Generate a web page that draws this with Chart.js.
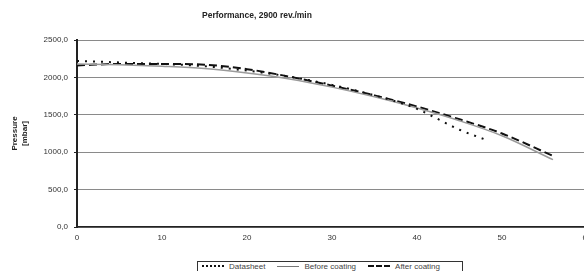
<!DOCTYPE html>
<html lang="en">
<head>
  <meta charset="UTF-8" />
  <title>Performance, 2900 rev./min</title>
  <style>
    body {
      margin: 0;
      background: #fff;
      font-family: 'Liberation Sans', Arial, sans-serif;
    }

    .wrap {
      position: relative;
      width: 584px;
      height: 271px;
      overflow: hidden;
    }

    .wrap canvas {
      position: absolute;
      left: 0;
      top: 0;
    }

    .title {
      position: absolute;
      left: 202px;
      top: 10px;
      font-size: 8.5px;
      font-weight: bold;
      color: #222;
    }

    .legend {
      position: absolute;
      left: 197px;
      top: 261px;
      width: 266px;
      height: 14px;
      border: 1px solid #333;
      background: #fff;
      display: flex;
      align-items: center;
      font-size: 8px;
      color: #444;
      padding-bottom: 4px;
      box-sizing: border-box;
    }

    .legend span.item {
      display: flex;
      align-items: center;
      margin-left: 4px;
      margin-right: 8px;
    }

    .legend .sample {
      display: inline-block;
      width: 22px;
      height: 0;
      margin-right: 5px;
    }
  </style>
</head>
<body>
  <div class="wrap">
    <canvas id="perfChart" width="600" height="271" style="width:600px;height:271px"></canvas>
    <div class="title">Performance, 2900 rev./min</div>
    <div class="legend" id="legend"></div>
  </div>

  <script src="https://cdn.jsdelivr.net/npm/chart.js"></script>
  <script>
    // values
    const seriesNames = ['Datasheet', 'Before coating', 'After coating'];

    const flowDatasheet = [0, 5, 10, 15, 20, 25, 30, 35, 40, 42, 45, 48];
    const pressureDatasheet = [2220, 2200, 2180, 2150, 2090, 2010, 1900, 1760, 1580, 1470, 1300, 1170];

    const flowBefore = [0, 5, 10, 15, 20, 25, 30, 35, 40, 45, 50, 56];
    const pressureBefore = [2180, 2170, 2150, 2120, 2060, 1980, 1870, 1740, 1590, 1420, 1220, 900];

    const flowAfter = [0, 5, 10, 15, 20, 25, 30, 35, 40, 45, 50, 56];
    const pressureAfter = [2160, 2180, 2180, 2170, 2110, 2010, 1890, 1760, 1610, 1440, 1250, 950];

    const xTicks = [0, 10, 20, 30, 40, 50, 60];
    const yTicks = [0, 500, 1000, 1500, 2000, 2500];

    const toPoints = (xs, ys) => xs.map((x, i) => ({ x: x, y: ys[i] }));

    const styles = [
      { color: '#111', width: 2, dash: [2, 6], css: '2px dotted #111' },
      { color: '#9a9a9a', width: 1.5, dash: [], css: '1px solid #777' },
      { color: '#111', width: 2, dash: [8, 4], css: '2px dashed #111' }
    ];

    const seriesData = [
      toPoints(flowDatasheet, pressureDatasheet),
      toPoints(flowBefore, pressureBefore),
      toPoints(flowAfter, pressureAfter)
    ];

    const fmt = v => v.toFixed(1).replace('.', ',');

    const ctx = document.getElementById('perfChart').getContext('2d');
    new Chart(ctx, {
      type: 'line',
      data: {
        datasets: seriesNames.map((name, i) => ({
          label: name,
          data: seriesData[i],
          borderColor: styles[i].color,
          borderWidth: styles[i].width,
          borderDash: styles[i].dash,
          pointRadius: 0,
          cubicInterpolationMode: 'monotone',
          fill: false
        }))
      },
      options: {
        responsive: false,
        animation: false,
        layout: { padding: { top: 40, right: 13, left: 0, bottom: 0 } },
        plugins: {
          legend: { display: false },
          tooltip: { enabled: false }
        },
        scales: {
          x: {
            type: 'linear',
            min: 0,
            max: 60,
            afterBuildTicks: s => { s.ticks = xTicks.map(v => ({ value: v })); },
            afterFit: s => { s.height = 44; },
            grid: { display: false, drawTicks: true, tickLength: 3, tickColor: '#222' },
            border: { color: '#222', width: 1.5 },
            ticks: {
              color: '#333',
              font: { family: 'Liberation Sans', size: 8 },
              padding: 3,
              maxRotation: 0
            },
            title: {
              display: true,
              text: 'Flow [m3/h]',
              color: '#222',
              font: { family: 'Liberation Sans', size: 8, weight: 'bold' },
              padding: { top: 4, bottom: 0 }
            }
          },
          y: {
            min: 0,
            max: 2500,
            afterBuildTicks: s => { s.ticks = yTicks.map(v => ({ value: v })); },
            afterFit: s => { s.width = 77; },
            grid: { color: '#8a8a8a', lineWidth: 1, drawTicks: true, tickLength: 3, tickColor: '#222' },
            border: { color: '#222', width: 2 },
            ticks: {
              color: '#333',
              font: { family: 'Liberation Sans', size: 8 },
              padding: 6,
              callback: v => fmt(v)
            },
            title: {
              display: true,
              text: ['Pressure', '[mbar]'],
              color: '#222',
              font: { family: 'Liberation Sans', size: 8, weight: 'bold' },
              padding: { top: 10, bottom: 0 }
            }
          }
        }
      }
    });

    // html legend with a border like the original
    const legend = document.getElementById('legend');
    seriesNames.forEach((name, i) => {
      const item = document.createElement('span');
      item.className = 'item';
      const sample = document.createElement('span');
      sample.className = 'sample';
      sample.style.borderTop = styles[i].css;
      item.appendChild(sample);
      item.appendChild(document.createTextNode(name));
      legend.appendChild(item);
    });
  </script>
</body>
</html>
